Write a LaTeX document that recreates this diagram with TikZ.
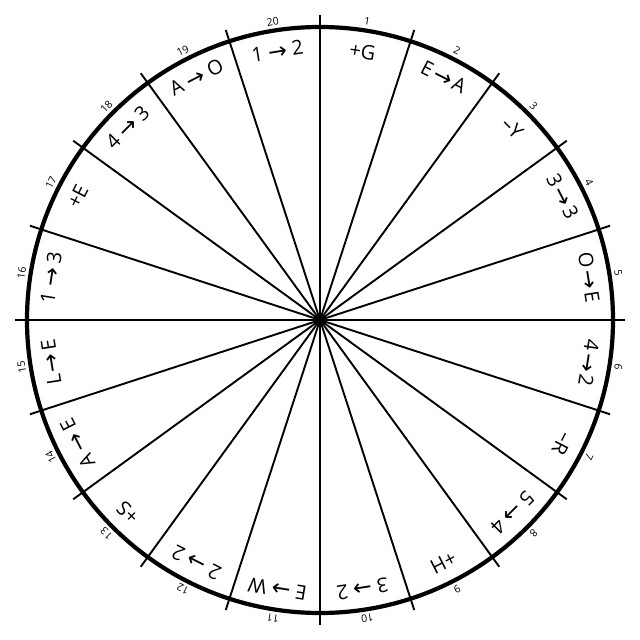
\documentclass[tikz,border=0pt]{standalone}
\usepackage{fontspec}
\usetikzlibrary{calc}
\setmainfont{Open Sans}
\newfontfamily\arrowfont{DejaVu Sans}
\newcommand{\myarr}{{\arrowfont\fontsize{22.5}{22.5}\selectfont\raisebox{-0.6pt}{→}}}
\newcommand{\tarr}{\kern2.6pt\myarr\kern2.6pt}
\begin{document}
\begin{tikzpicture}[x=1pt,y=1pt,
  spoke/.style={line width=1.9pt},
  axis/.style={line width=2.4pt},
  rim/.style={line width=4.2pt},
  lab/.style={font=\fontsize{20}{20}\selectfont, inner sep=0pt},
  num/.style={font=\fontsize{10.5}{10.5}\selectfont, inner sep=0pt}]
\useasboundingbox (-320,-320) rectangle (320,320);
\fill[white] (-320,-320) rectangle (320,320);
\coordinate (c) at (0,0);
\foreach \i in {1,2,3,4,6,7,8,9}{
  \draw[spoke] ($(c)+(90-18*\i:305)$) -- ($(c)+(270-18*\i:305)$);
}
\draw[axis] ($(c)+(90:305)$) -- ($(c)+(270:305)$);
\draw[axis] ($(c)+(0:305)$) -- ($(c)+(180:305)$);
\draw[rim] (c) circle (293);
\foreach \k/\t in {1/{+G},2/{E\tarr A},3/{–Y},4/{3\tarr3},5/{O\tarr E},6/{4\tarr2},7/{–R},8/{5 \myarr\ 4},9/{+H},10/{3 \myarr\ 2},11/{E \myarr\ W},12/{2 \myarr\ 2},13/{+S},14/{A \myarr\ E},15/{L\tarr E},16/{1 \myarr\ 3},17/{+E},18/{4 \myarr\ 3},19/{A \myarr\ O},20/{1 \myarr\ 2}}{
  \pgfmathsetmacro{\ang}{81-18*(\k-1)}
  \node[lab, rotate=\ang-90] (l\k) at ($(c)+(\ang:272)$) {\t};
  \node[num, rotate=\ang-90] (n\k) at ($(c)+(\ang:302)$) {\k};
}
\end{tikzpicture}
\end{document}
